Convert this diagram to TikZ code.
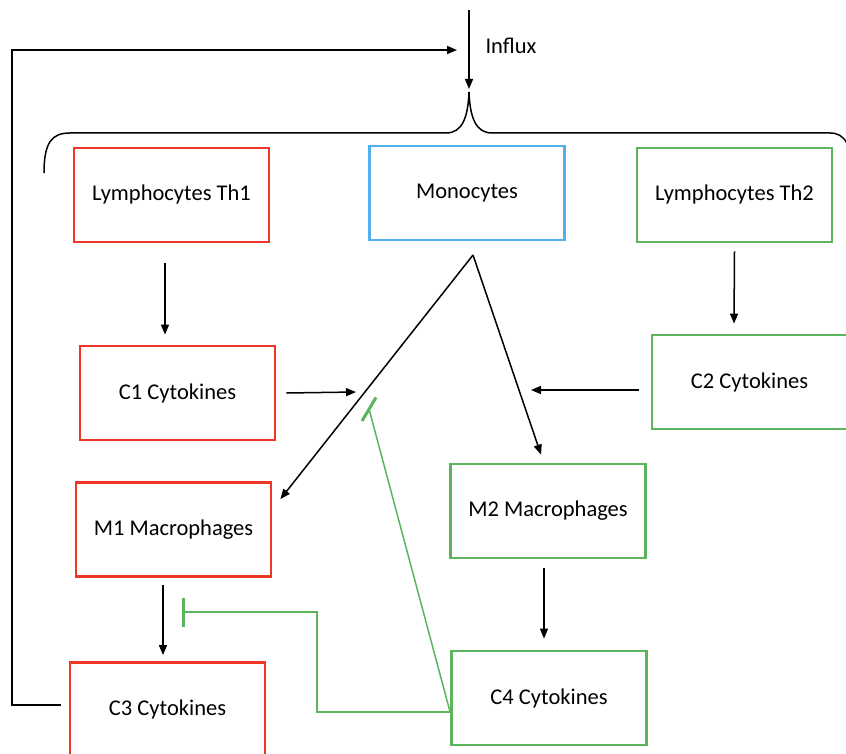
\documentclass[tikz,border=0pt]{standalone}
\usepackage{fontspec}
\setmainfont{Carlito}
\usetikzlibrary{arrows.meta}
\definecolor{cred}{HTML}{EE3526}
\definecolor{cblue}{HTML}{52B0EC}
\definecolor{cgreen}{HTML}{5CB55C}
\begin{document}
\begin{tikzpicture}[x=1pt,y=-1pt,
  box/.style={draw,line width=2.8pt,minimum width=195pt,minimum height=94pt,inner sep=0pt,
    font=\fontsize{22.5}{27}\selectfont},
  redbox/.style={box,draw=cred},
  bluebox/.style={box,draw=cblue},
  greenbox/.style={box,draw=cgreen},
  arr/.style={line width=1.5pt,-{Triangle[length=10pt,width=8pt]}},
  inh/.style={draw=cgreen,line width=1.5pt},
  bar/.style={draw=cgreen,line width=3pt}]
\useasboundingbox (0,0) rectangle (846,754);

\node[redbox]   (th1) at (171.5,195) {Lymphocytes Th1};
\node[bluebox]  (mono) at (467,193) {Monocytes};
\node[greenbox] (th2) at (734.5,195) {Lymphocytes Th2};
\node[redbox]   (c1) at (177.5,393) {C1 Cytokines};
\node[greenbox] (c2) at (749.5,382) {C2 Cytokines};
\node[redbox]   (m1) at (173.5,529.5) {M1 Macrophages};
\node[greenbox] (m2) at (548,511) {M2 Macrophages};
\node[redbox]   (c3) at (167.5,709.5) {C3 Cytokines};
\node[greenbox] (c4) at (549,698) {C4 Cytokines};

% influx
\coordinate (intop) at (469,10);
\coordinate (peak) at (469,92);
\draw[arr] (intop) -- (469,89);
\node[font=\fontsize{22.5}{27}\selectfont,anchor=west] (influx) at (482,46) {Influx};

% brace
\draw[line width=1.5pt] (44,173) .. controls (44,142) and (52,133) .. (70,133) -- (446,133)
  .. controls (462,133) and (468,118) .. (peak)
  .. controls (470,118) and (476,133) .. (492,133) -- (830,133)
  .. controls (845,133) and (852,145) .. (852,175);

% feedback loop
\coordinate (fbend) at (457,50);
\draw[arr] ([xshift=-8pt,yshift=4.5pt]c3.west) -| (12,50) -- (fbend);

% Th1 -> C1, Th2 -> C2
\draw[arr] ([xshift=-6.5pt,yshift=-20pt]th1.south) -- ([xshift=-12.5pt,yshift=10pt]c1.north);
\draw[arr] ([yshift=-8pt]th2.south) -- ([xshift=-15.5pt,yshift=10pt]c2.north);

% monocyte lines
\coordinate (apex) at (473,255);
\coordinate (cross) at (356,392);
\draw[arr] (apex) -- ([xshift=8pt,yshift=-18pt]m1.north east);
\draw[arr] (apex) -- ([xshift=-7pt,yshift=8pt]m2.north);

% C1 -> , C2 ->
\draw[arr] ([xshift=10pt]c1.east) -- (cross);
\coordinate (c2end) at (531,390);
\draw[arr] ([xshift=-12pt,yshift=-8pt]c2.west) -- (c2end);

% M1 -> C3, M2 -> C4
\draw[arr] ([xshift=-10.5pt,yshift=-7pt]m1.south) -- ([xshift=-4.5pt,yshift=6pt]c3.north);
\draw[arr] ([xshift=-4pt,yshift=-9pt]m2.south) -- ([xshift=-5pt,yshift=11pt]c4.north);

% inhibitions from C4
\coordinate (c4out) at ([yshift=-14pt]c4.west);
\coordinate (inh1) at (369,409);
\draw[inh] (c4out) -- (inh1);
\draw[bar] (362,421) -- (376,397.5);
\coordinate (inh2) at (183,612);
\draw[inh] (c4out) -- (317,712) -- (317,612) -- (inh2);
\draw[bar] (183,598) -- (183,627);
\end{tikzpicture}
\end{document}
